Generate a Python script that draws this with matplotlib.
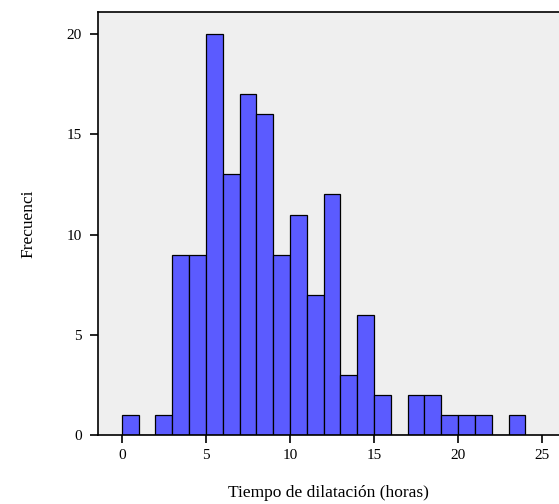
import matplotlib
matplotlib.use("Agg")
import matplotlib.pyplot as plt
import numpy as np

bin_edges = list(range(0, 25))
counts = [1, 0, 1, 9, 9, 20, 13, 17, 16, 9, 11, 7, 12, 3, 6, 2, 0, 2, 2, 1, 1, 1, 0, 1]
xticks = [0, 5, 10, 15, 20, 25]
yticks = [0, 5, 10, 15, 20]

plt.rcParams['font.family'] = ['Liberation Serif', 'DejaVu Serif']

fig = plt.figure(figsize=(5.59, 5.04), dpi=100)
ax = fig.add_axes([0.1753, 0.137, 0.8247, 0.839])
ax.set_facecolor('#efefef')
ax.hist(np.array(bin_edges[:-1]) + 0.5, bins=bin_edges, weights=counts,
        color='#5b5bff', edgecolor='black', linewidth=0.9)
ax.set_xlim(-1.42, 26.0)
ax.set_ylim(0, 21.1)
ax.set_xticks(xticks)
ax.set_yticks(yticks)
ax.tick_params(direction='out', length=6, width=1.2, labelsize=11, colors='black')
ax.tick_params(axis='x', pad=4)
ax.tick_params(axis='y', pad=5.5)
ax.spines['right'].set_visible(False)
for s in ['left', 'bottom', 'top']:
    ax.spines[s].set_linewidth(1.2)
ax.set_xlabel('Tiempo de dilatación (horas)', fontsize=12.5, labelpad=17)
ax.set_ylabel('Frecuenci', fontsize=12.5, labelpad=22)
fig.savefig('out.png', dpi=100)
